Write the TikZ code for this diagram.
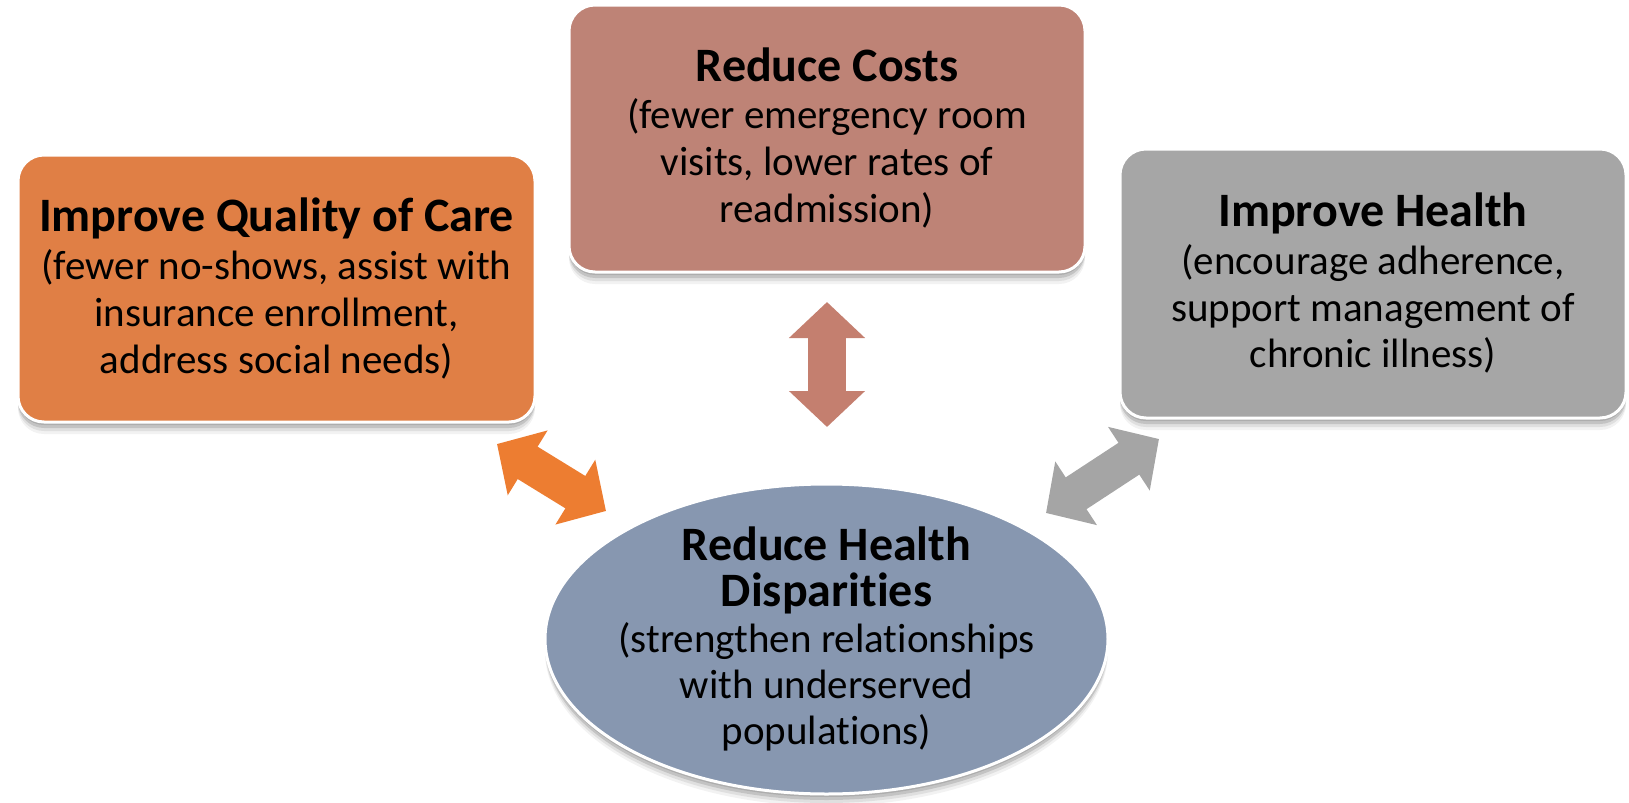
\documentclass[tikz,border=0pt]{standalone}
\usepackage{fontspec}
\setmainfont{Carlito}[Ligatures={NoCommon}]
\usetikzlibrary{shapes.geometric,shadows,arrows.meta}
\definecolor{cOrange}{HTML}{E07F45}
\definecolor{cRose}{HTML}{BE8376}
\definecolor{cGrey}{HTML}{A6A6A6}
\definecolor{cBlue}{HTML}{8797B0}
\definecolor{aOrange}{HTML}{ED7D31}
\definecolor{aRose}{HTML}{C47F6F}
\definecolor{aGrey}{HTML}{A5A5A5}
\newcommand{\ttl}[1]{{\fontsize{24}{24}\selectfont\bfseries #1}}
\tikzset{
  shad/.style={
    drop shadow={shadow xshift=0pt, shadow yshift=-1.5pt, opacity=0.12, fill=black},
    drop shadow={shadow xshift=0pt, shadow yshift=-3pt, opacity=0.12, fill=black},
    drop shadow={shadow xshift=0pt, shadow yshift=-4.5pt, opacity=0.08, fill=black},
    drop shadow={shadow xshift=0pt, shadow yshift=-6pt, opacity=0.05, fill=black}},
  box/.style={draw=white, line width=1.5pt, rounded corners=13pt, align=center,
    inner sep=0pt, shad, font=\fontsize{20.5}{23.5}\selectfont, text=black},
  oval/.style={ellipse, draw=white, line width=1.5pt, align=center,
    inner xsep=-6pt, inner ysep=-6pt, shad, font=\fontsize{20.5}{23}\selectfont, text=black},
  bigarrow/.style={line width=19pt,
    {Triangle[width=37pt,length=18pt]}-{Triangle[width=37pt,length=18pt]}},
}
\begin{document}
\begin{tikzpicture}[x=0.5pt,y=-0.5pt]
\useasboundingbox (0,0) rectangle (1629,803);
% arrows
\coordinate (o1) at (497,444);
\coordinate (o2) at (606,511);
\coordinate (r1) at (827,302);
\coordinate (r2) at (827,427);
\coordinate (g1) at (1159,439);
\coordinate (g2) at (1046,513);
\draw[bigarrow, aOrange] (o1) -- (o2);
\draw[bigarrow, aRose] (r1) -- (r2);
\draw[bigarrow, aGrey] (g1) -- (g2);
% boxes
\node[box, fill=cOrange, minimum width=258.5pt, minimum height=133.5pt] (qc) at (276.5,288.5)
  {\ttl{Improve Quality of Care}\\(fewer no-shows, assist with\\insurance enrollment,\\address social needs)};
\node[box, fill=cRose, minimum width=258pt, minimum height=133.5pt] (rc) at (827,138.5)
  {\ttl{Reduce Costs}\\(fewer emergency room\\visits, lower rates of\\readmission)};
\node[box, fill=cGrey, minimum width=253pt, minimum height=134.5pt] (ih) at (1373,283.5)
  {\ttl{Improve Health}\\(encourage adherence,\\support management of\\chronic illness)};
\node[oval, fill=cBlue, minimum width=281.5pt, minimum height=155pt] (hd) at (826.5,639)
  {\ttl{Reduce Health}\\\ttl{Disparities}\\(strengthen relationships\\with underserved\\populations)};
\end{tikzpicture}
\end{document}
